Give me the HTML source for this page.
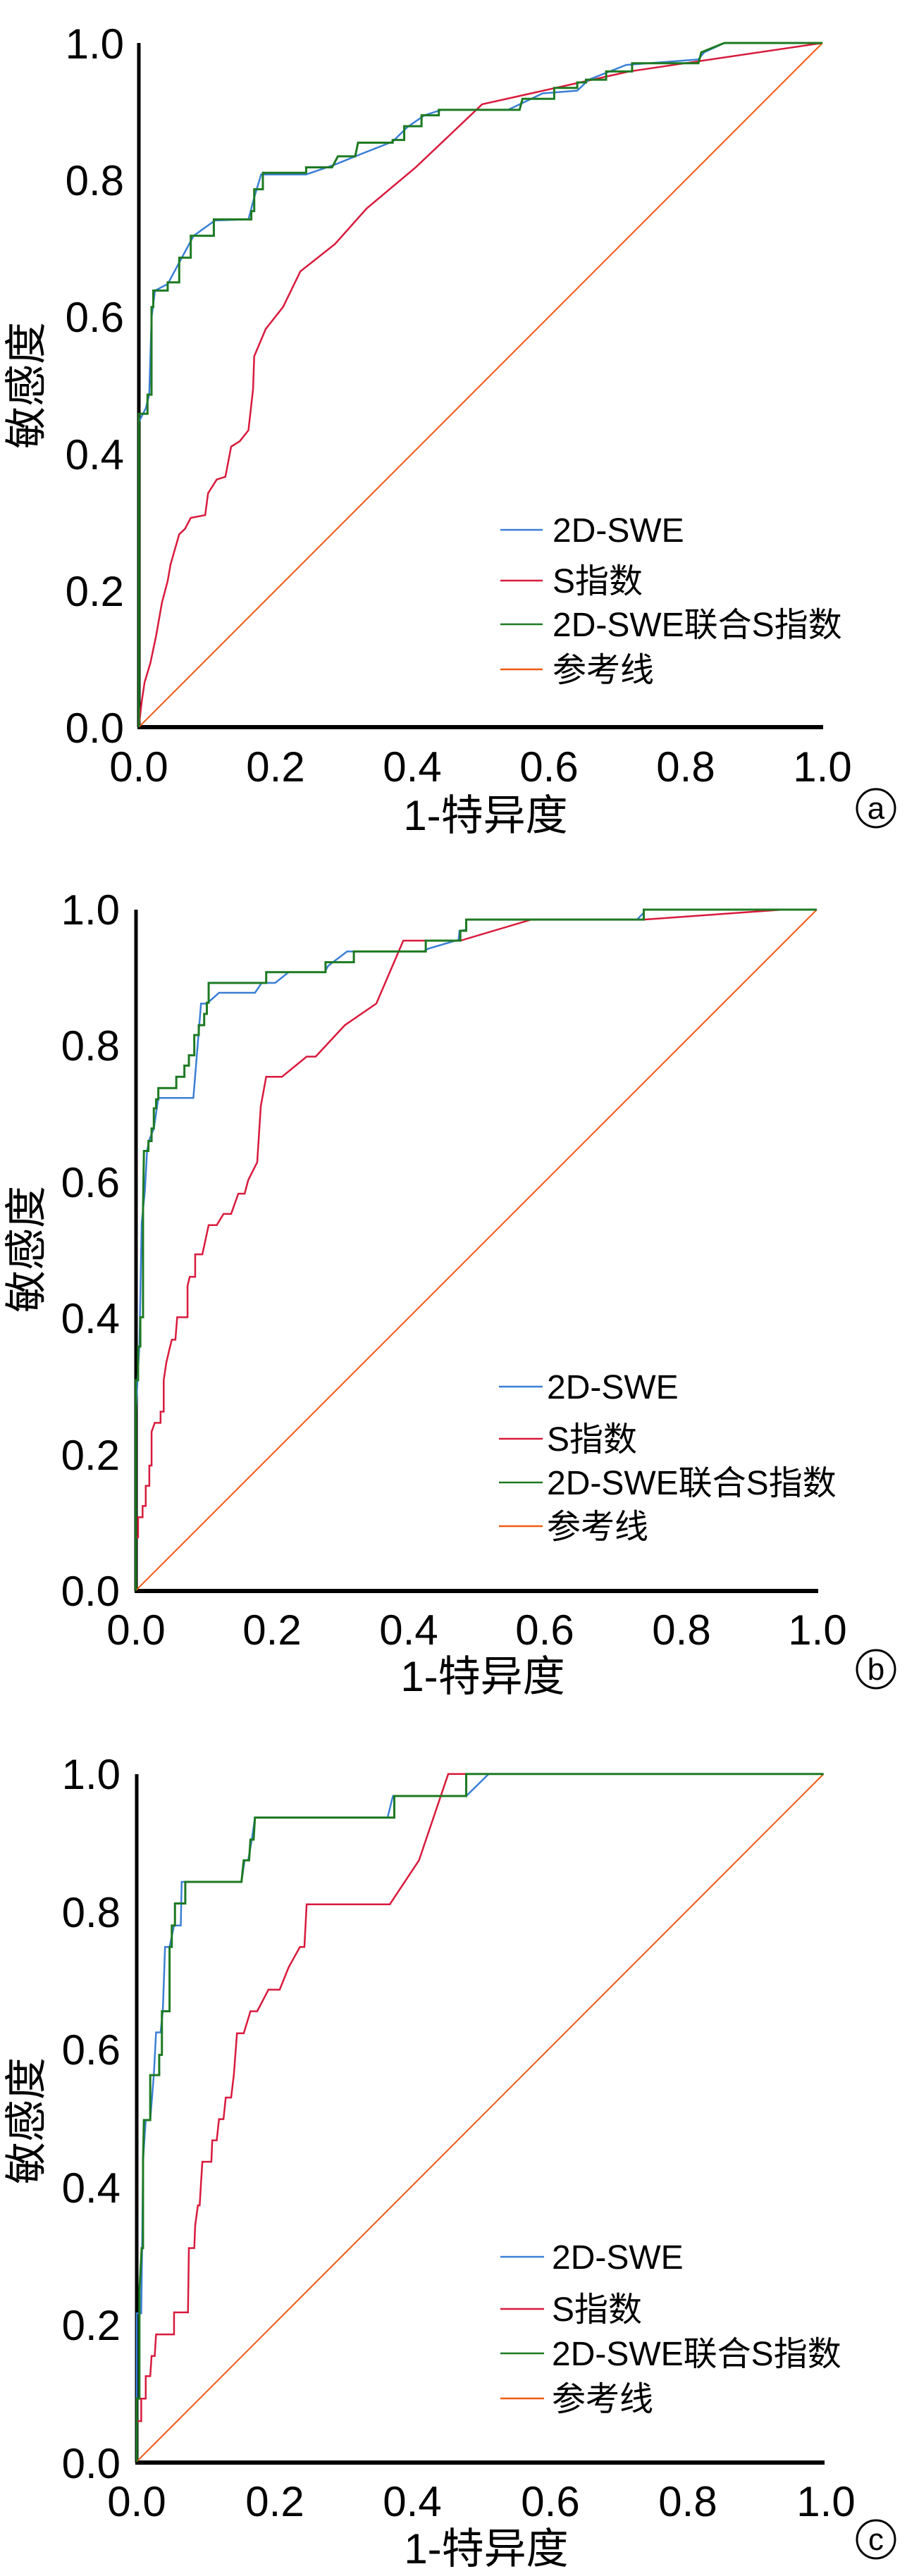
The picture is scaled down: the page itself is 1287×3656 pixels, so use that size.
<!DOCTYPE html>
<html><head><meta charset="utf-8"><style>
html,body{margin:0;padding:0;background:#fff;}
svg{display:block;}
text{font-family:"Liberation Sans","Noto Sans CJK SC",sans-serif;fill:#000;}
.c{fill:none;vector-effect:non-scaling-stroke;stroke-linejoin:miter;}
</style></head><body>
<svg width="1287" height="3656" viewBox="0 0 1287 3656" xmlns="http://www.w3.org/2000/svg">
<defs>
<g id="ticks">
</g>
</defs>

<!-- ============ PANEL A ============ -->
<g>
<line x1="197" y1="61" x2="197" y2="1032" stroke="#000" stroke-width="5"/>
<line x1="195" y1="1032" x2="1168" y2="1032" stroke="#000" stroke-width="6"/>
<g transform="translate(0.54,0.36) scale(0.8186,0.7774)">
<polyline class="c" stroke="#f05a14" stroke-width="2" points="240,1327 1425,78"/>
<polyline class="c" stroke="#d81a3c" stroke-width="2.5" points="240,1327 245,1280 250,1245 260,1210 270,1160 280,1100 290,1060 295,1030 310,975 320,965 330,945 355,940 360,900 375,875 390,870 400,815 415,805 430,785 438,710 440,650 460,600 490,560 520,495 580,445 635,380 720,305 835,190 1090,130 1425,78"/>
<polyline class="c" stroke="#3a7fd5" stroke-width="2.5" points="240,1327 240,770 252,745 258,720 262,580 268,530 290,518 312,475 335,430 372,402 430,400 440,360 452,318 530,318 580,300 615,285 680,258 705,232 735,210 765,200 880,200 940,170 1000,165 1020,145 1085,118 1210,108 1220,95 1255,78 1425,78"/>
<polyline class="c" stroke="#1d7a22" stroke-width="3" points="240,1327 240,755 255,755 255,720 262,720 262,560 265,560 265,530 290,530 290,515 310,515 310,470 330,470 330,430 370,430 370,400 435,400 435,385 440,385 440,345 455,345 455,315 530,315 530,305 575,305 585,285 615,285 620,260 680,260 680,255 700,255 700,230 730,230 730,210 760,210 760,200 900,200 905,180 960,180 960,160 1000,160 1000,150 1015,150 1015,145 1050,145 1050,130 1095,130 1095,115 1210,115 1215,95 1255,78 1425,78"/>
</g>
<g font-size="60" text-anchor="end">
<text x="176" y="83">1.0</text><text x="176" y="277">0.8</text><text x="176" y="471">0.6</text><text x="176" y="666">0.4</text><text x="176" y="860">0.2</text><text x="176" y="1054">0.0</text>
</g>
<g font-size="60" text-anchor="middle">
<text x="197" y="1109">0.0</text><text x="391" y="1109">0.2</text><text x="585" y="1109">0.4</text><text x="779" y="1109">0.6</text><text x="973" y="1109">0.8</text><text x="1167" y="1109">1.0</text>
<text x="689" y="1178">1-特异度</text>
</g>
<text font-size="60" text-anchor="middle" transform="translate(58,547) rotate(-90)">敏感度</text>
<circle cx="1243" cy="1147" r="27" fill="none" stroke="#000" stroke-width="3"/>
<text x="1243" y="1162" font-size="44" text-anchor="middle">a</text>
<g font-size="48">
<line x1="710" y1="752" x2="770" y2="752" stroke="#3a7fd5" stroke-width="2.5"/><text x="784" y="769">2D-SWE</text>
<line x1="710" y1="824" x2="770" y2="824" stroke="#d81a3c" stroke-width="2.5"/><text x="784" y="841">S指数</text>
<line x1="710" y1="886" x2="770" y2="886" stroke="#1d7a22" stroke-width="2.5"/><text x="784" y="903">2D-SWE联合S指数</text>
<line x1="710" y1="950" x2="770" y2="950" stroke="#f05a14" stroke-width="2.5"/><text x="784" y="967">参考线</text>
</g>
</g>

<!-- ============ PANEL B ============ -->
<g>
<line x1="193" y1="1291" x2="193" y2="2258" stroke="#000" stroke-width="5"/>
<line x1="191" y1="2258" x2="1161" y2="2258" stroke="#000" stroke-width="6"/>
<g transform="translate(180,1270) scale(0.6378)">
<polyline class="c" stroke="#f05a14" stroke-width="2" points="20,1548 1535,33"/>
<polyline class="c" stroke="#d81a3c" stroke-width="2.5" points="20,1548 20,1430 25,1430 25,1385 35,1385 35,1360 42,1360 42,1315 50,1315 50,1270 55,1270 55,1195 62,1175 75,1175 75,1150 82,1150 82,1080 88,1040 95,1010 100,990 108,990 112,940 135,940 135,870 140,850 152,850 152,800 168,800 182,735 200,735 215,710 232,710 248,665 262,665 270,635 290,595 298,470 310,405 345,405 400,360 420,360 485,290 555,242 615,102 665,102 742,102 900,55 1150,55 1460,33 1535,33"/>
<polyline class="c" stroke="#3a7fd5" stroke-width="2.5" points="20,1548 20,1150 28,1000 33,730 40,660 45,570 50,545 60,520 70,452 148,452 165,242 178,242 205,218 285,218 300,196 330,196 360,172 440,172 448,158 490,126 660,126 670,120 738,100 740,80 755,78 755,55 1135,55 1150,40 1150,33 1535,33"/>
<polyline class="c" stroke="#1d7a22" stroke-width="3" points="20,1548 20,1080 25,1080 25,1005 30,1005 30,940 36,940 36,700 38,570 48,570 48,548 55,548 55,520 60,520 60,475 65,475 65,455 70,455 70,430 110,430 110,405 128,405 128,380 138,380 138,357 150,357 150,312 160,312 160,290 172,290 172,265 178,265 178,240 182,240 182,196 310,196 310,172 442,172 442,150 505,150 505,126 665,126 665,102 742,102 742,80 755,80 755,55 1150,55 1150,33 1535,33"/>
</g>
<g font-size="60" text-anchor="end">
<text x="170" y="1312">1.0</text><text x="170" y="1505">0.8</text><text x="170" y="1699">0.6</text><text x="170" y="1892">0.4</text><text x="170" y="2086">0.2</text><text x="170" y="2279">0.0</text>
</g>
<g font-size="60" text-anchor="middle">
<text x="193" y="2334">0.0</text><text x="386" y="2334">0.2</text><text x="580" y="2334">0.4</text><text x="773" y="2334">0.6</text><text x="967" y="2334">0.8</text><text x="1160" y="2334">1.0</text>
<text x="685" y="2400">1-特异度</text>
</g>
<text font-size="60" text-anchor="middle" transform="translate(58,1773) rotate(-90)">敏感度</text>
<circle cx="1243" cy="2369" r="27" fill="none" stroke="#000" stroke-width="3"/>
<text x="1243" y="2384" font-size="44" text-anchor="middle">b</text>
<g font-size="48">
<line x1="708" y1="1968" x2="770" y2="1968" stroke="#3a7fd5" stroke-width="2.5"/><text x="776" y="1985">2D-SWE</text>
<line x1="708" y1="2042" x2="770" y2="2042" stroke="#d81a3c" stroke-width="2.5"/><text x="776" y="2059">S指数</text>
<line x1="708" y1="2104" x2="770" y2="2104" stroke="#1d7a22" stroke-width="2.5"/><text x="776" y="2121">2D-SWE联合S指数</text>
<line x1="708" y1="2166" x2="770" y2="2166" stroke="#f05a14" stroke-width="2.5"/><text x="776" y="2183">参考线</text>
</g>
</g>

<!-- ============ PANEL C ============ -->
<g>
<line x1="194" y1="2518" x2="194" y2="3495" stroke="#000" stroke-width="5"/>
<line x1="192" y1="3495" x2="1170" y2="3495" stroke="#000" stroke-width="6"/>
<g transform="translate(180,2505) scale(0.6378)">
<polyline class="c" stroke="#f05a14" stroke-width="2" points="22,1550 1550,20"/>
<polyline class="c" stroke="#d81a3c" stroke-width="2.5" points="22,1550 22,1460 32,1460 32,1410 42,1410 42,1360 52,1360 55,1315 62,1315 65,1267 105,1267 105,1218 136,1218 138,1075 150,1075 152,1025 158,980 162,980 165,930 168,883 188,883 190,835 200,835 205,788 215,788 220,740 232,740 238,690 245,597 260,597 275,548 290,548 315,500 340,500 360,450 385,405 395,405 400,310 585,310 650,212 715,20 1550,20"/>
<polyline class="c" stroke="#3a7fd5" stroke-width="2.5" points="22,1550 22,1220 32,1220 34,1075 36,880 42,790 52,790 60,690 65,595 75,595 80,548 85,405 95,405 105,357 120,357 122,260 255,260 262,212 270,212 278,166 285,117 580,117 592,69 755,69 805,20 1550,20"/>
<polyline class="c" stroke="#1d7a22" stroke-width="3" points="22,1550 22,1410 28,1410 28,1170 33,1075 36,1075 36,880 38,790 52,790 52,690 72,690 72,645 78,645 78,548 95,548 95,405 100,405 100,357 107,357 107,308 130,308 130,260 255,260 260,212 272,212 275,166 282,166 285,117 595,117 595,69 755,69 755,20 1550,20"/>
</g>
<g font-size="60" text-anchor="end">
<text x="171" y="2539">1.0</text><text x="171" y="2735">0.8</text><text x="171" y="2930">0.6</text><text x="171" y="3126">0.4</text><text x="171" y="3321">0.2</text><text x="171" y="3517">0.0</text>
</g>
<g font-size="60" text-anchor="middle">
<text x="194" y="3571">0.0</text><text x="390" y="3571">0.2</text><text x="585" y="3571">0.4</text><text x="781" y="3571">0.6</text><text x="976" y="3571">0.8</text><text x="1172" y="3571">1.0</text>
<text x="690" y="3638">1-特异度</text>
</g>
<text font-size="60" text-anchor="middle" transform="translate(58,3010) rotate(-90)">敏感度</text>
<circle cx="1243" cy="3604" r="27" fill="none" stroke="#000" stroke-width="3"/>
<text x="1243" y="3619" font-size="44" text-anchor="middle">c</text>
<g font-size="48">
<line x1="710" y1="3203" x2="772" y2="3203" stroke="#3a7fd5" stroke-width="2.5"/><text x="783" y="3220">2D-SWE</text>
<line x1="710" y1="3277" x2="772" y2="3277" stroke="#d81a3c" stroke-width="2.5"/><text x="783" y="3294">S指数</text>
<line x1="710" y1="3340" x2="772" y2="3340" stroke="#1d7a22" stroke-width="2.5"/><text x="783" y="3357">2D-SWE联合S指数</text>
<line x1="710" y1="3404" x2="772" y2="3404" stroke="#f05a14" stroke-width="2.5"/><text x="783" y="3421">参考线</text>
</g>
</g>
</svg>
</body></html>
